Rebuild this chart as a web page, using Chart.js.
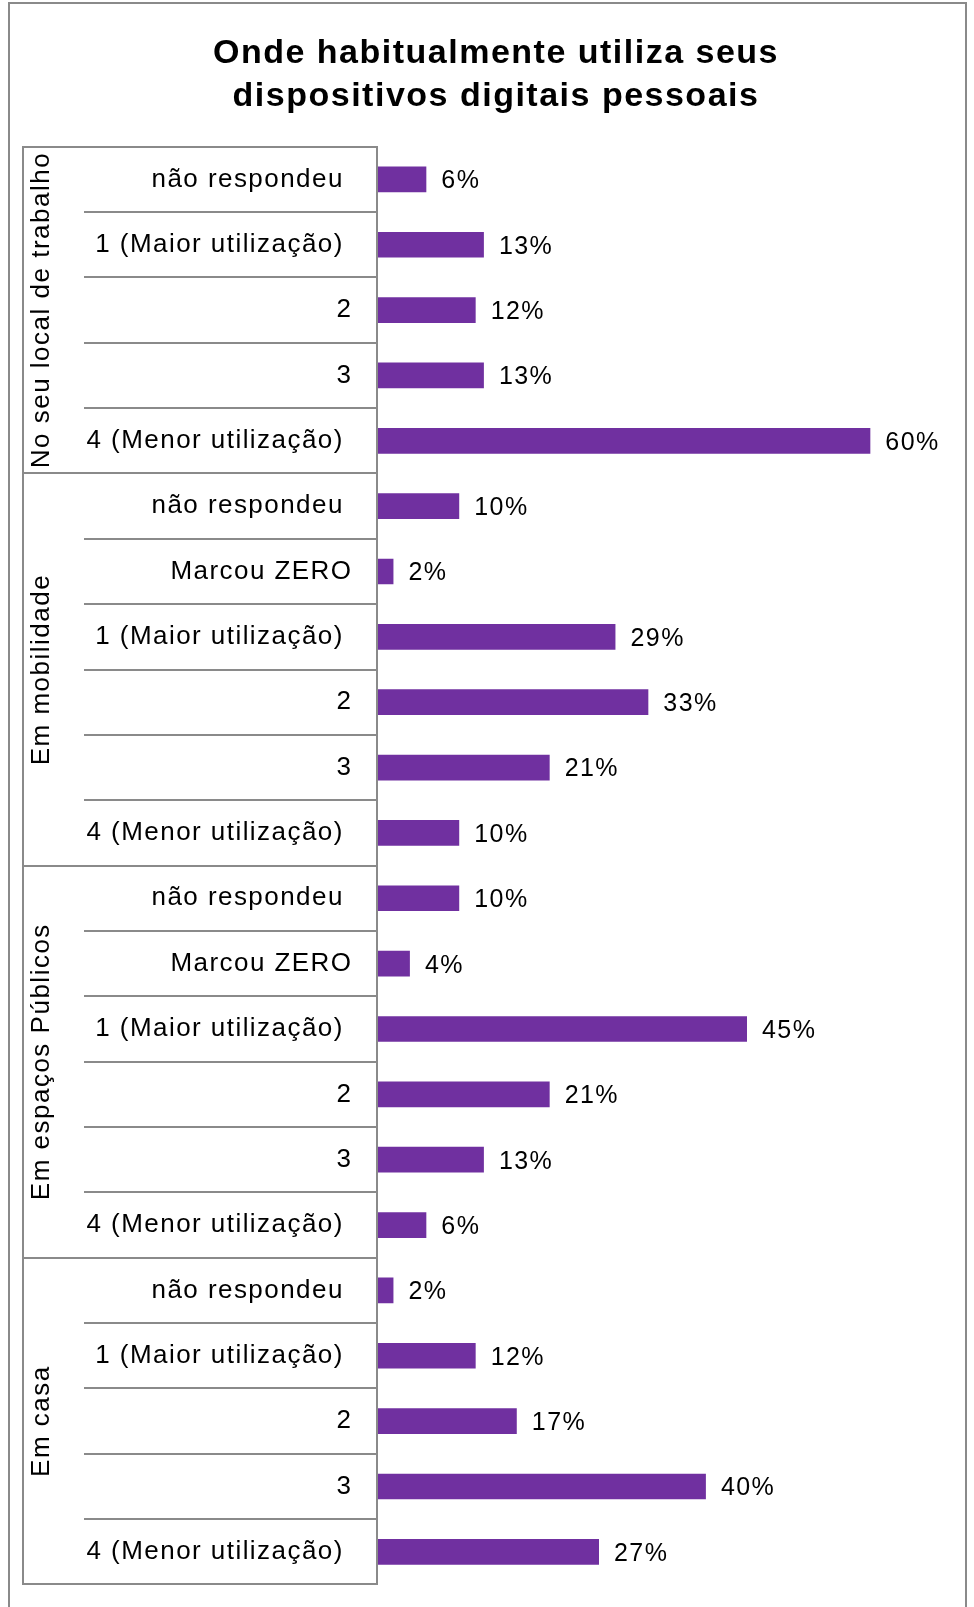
<!DOCTYPE html>
<html lang="pt">
<head>
<meta charset="utf-8">
<title>Onde habitualmente utiliza seus dispositivos digitais pessoais</title>
<script src="https://cdn.jsdelivr.net/npm/chart.js@4.4.1/dist/chart.umd.min.js"></script>
<style>
  html, body { margin: 0; padding: 0; background: #ffffff; overflow: hidden; }
  canvas { display: block; }
</style>
</head>
<body>
<canvas id="chart" width="974" height="1607"></canvas>
<script>
// ---- data ----
const titleLines = ['Onde habitualmente utiliza seus', 'dispositivos digitais pessoais'];
const groupNames = ['No seu local de trabalho', 'Em mobilidade', 'Em espaços Públicos', 'Em casa'];

const workLabels = ['não respondeu ', '1 (Maior utilização) ', '2', '3', '4 (Menor utilização) '];
const workValues = [6, 13, 12, 13, 60];

const mobileLabels = ['não respondeu ', 'Marcou ZERO', '1 (Maior utilização) ', '2', '3', '4 (Menor utilização) '];
const mobileValues = [10, 2, 29, 33, 21, 10];

const publicLabels = ['não respondeu ', 'Marcou ZERO', '1 (Maior utilização) ', '2', '3', '4 (Menor utilização) '];
const publicValues = [10, 4, 45, 21, 13, 6];

const homeLabels = ['não respondeu ', '1 (Maior utilização) ', '2', '3', '4 (Menor utilização) '];
const homeValues = [2, 12, 17, 40, 27];

const groupLabels = [workLabels, mobileLabels, publicLabels, homeLabels];
const groupValues = [workValues, mobileValues, publicValues, homeValues];

// ---- styling ----
const FONT = '"Liberation Sans", Arial, Helvetica, sans-serif';
const LINE = '#8a8a8a';
const BAR = '#7030a0';

// Outer frame plus letter spacing for the two text passes
const framePlugin = {
  id: 'frame',
  beforeDraw(chart) {
    const ctx = chart.ctx;
    ctx.save();
    ctx.strokeStyle = LINE;
    ctx.lineWidth = 2;
    ctx.strokeRect(9, 3, 957, 1630);
    ctx.restore();
    ctx.letterSpacing = '1.5px';   // chart title and group names
  },
  beforeDatasetsDraw(chart) {
    chart.ctx.letterSpacing = '1.45px'; // category labels and value labels
  },
  afterDraw(chart) {
    chart.ctx.letterSpacing = '0px';
  }
};

// Percentage text to the right of each bar
const valueLabels = {
  id: 'valueLabels',
  afterDatasetsDraw(chart) {
    const ctx = chart.ctx;
    ctx.save();
    ctx.font = '25px ' + FONT;
    ctx.fillStyle = '#000000';
    ctx.textAlign = 'left';
    ctx.textBaseline = 'middle';
    chart.data.datasets.forEach((ds, di) => {
      chart.getDatasetMeta(di).data.forEach((bar, i) => {
        ctx.fillText(ds.data[i] + '%', bar.x + 15, bar.y + 2);
      });
    });
    ctx.restore();
  }
};

// ---- scales: a frame line, one outer (group) axis and one inner (category) axis per group ----
const scales = {
  x: { type: 'linear', min: 0, max: 72, display: false, grid: { display: false } },
  frame: {
    type: 'category', axis: 'y', position: 'left', labels: [''], offset: true, weight: 30,
    ticks: { display: false },
    grid: { display: true, drawOnChartArea: false, drawTicks: false },
    border: { display: true, color: LINE, width: 2 },
    afterFit(s) { s.width = 0; }
  }
};

groupLabels.forEach((labels, i) => {
  scales['outer' + i] = {
    type: 'category', axis: 'y', position: 'left', labels: [''], offset: true,
    stack: 'outer', stackWeight: labels.length, weight: 24 - i,
    ticks: { display: false },
    grid: { offset: true, drawOnChartArea: false, drawTicks: true, tickLength: 61,
            color: LINE, tickColor: LINE, lineWidth: 2, tickWidth: 2 },
    border: { display: false },
    title: { display: true, text: groupNames[i], color: '#000000',
             font: { family: FONT, size: 26, lineHeight: 1.2 }, padding: { top: 3.4, bottom: 0 } },
    afterFit(s) { s.width = 61; }
  };
  scales['inner' + i] = {
    type: 'category', axis: 'y', position: 'left', labels: labels, offset: true,
    stack: 'inner', stackWeight: labels.length, weight: 14 - i,
    ticks: { autoSkip: false, color: '#000000', font: { family: FONT, size: 26 }, padding: -268.5, z: 1 },
    grid: { offset: true, drawOnChartArea: false, drawTicks: true, tickLength: 293,
            color: LINE, tickColor: LINE, lineWidth: 2, tickWidth: 2 },
    border: { display: true, color: LINE, width: 2, z: 2 },
    afterFit(s) { s.width = 293; }
  };
});

// each group has its own category axis, so bars are not grouped across datasets
const datasets = groupValues.map((values, i) => ({
  label: groupNames[i],
  data: values,
  yAxisID: 'inner' + i,
  xAxisID: 'x',
  backgroundColor: BAR,
  borderWidth: 0,
  grouped: false,
  barPercentage: 0.393,
  categoryPercentage: 1
}));

new Chart(document.getElementById('chart'), {
  type: 'bar',
  data: { datasets },
  options: {
    indexAxis: 'y',
    responsive: false,
    animation: false,
    layout: { padding: { top: 10, left: 23, right: 5, bottom: 22.5 } },
    scales,
    plugins: {
      legend: { display: false },
      tooltip: { enabled: false },
      title: {
        display: true,
        text: titleLines,
        color: '#000000',
        font: { family: FONT, size: 34, weight: 'bold', lineHeight: '43.5px' },
        padding: { top: 21.5, bottom: 28.2 }
      }
    }
  },
  plugins: [framePlugin, valueLabels]
});
</script>
</body>
</html>
